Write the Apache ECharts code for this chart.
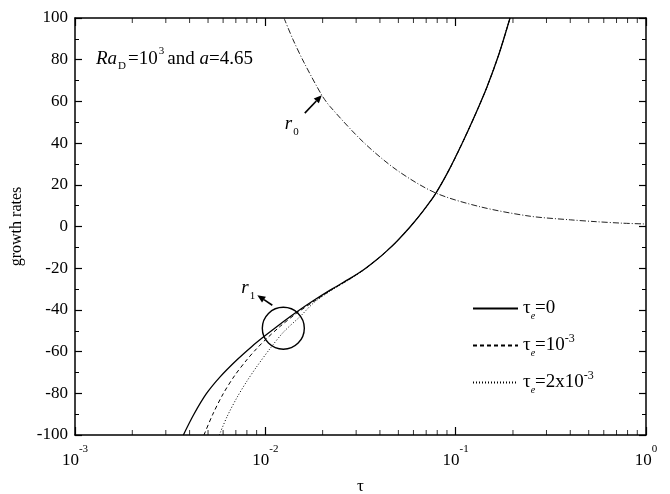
<!DOCTYPE html>
<html>
<head>
<meta charset="utf-8">
<script src="https://cdn.jsdelivr.net/npm/echarts@6/dist/echarts.min.js"></script>
<style>
html, body { margin: 0; padding: 0; background: #fff; }
#chart { width: 670px; height: 494px; }
</style>
</head>
<body>
<div id="chart"></div>
<script>
// r1 branch, tau_e = 0 (solid)
const tauE0 = [0.00371, 0.0042, 0.0049, 0.0058, 0.0071, 0.0085, 0.0098, 0.0118, 0.0146, 0.018, 0.0219, 0.0279, 0.0327, 0.039, 0.0435, 0.049, 0.058, 0.068, 0.078, 0.092, 0.1096, 0.127, 0.1455, 0.168, 0.193];
const rateE0 = [-100, -90.3, -80.2, -72, -63.9, -57.5, -52.9, -47.2, -41, -35.4, -30.5, -24.9, -20.9, -15.5, -11.7, -7.2, 0.1, 7.9, 15.4, 26.9, 41, 53.8, 66.5, 82.1, 100];
// tau_e = 1e-3 (dashed)
const tauE1 = [0.00476, 0.0053, 0.006, 0.0069, 0.008, 0.009, 0.0102, 0.012, 0.0146, 0.018, 0.0219, 0.0279, 0.0327, 0.039, 0.0435, 0.049, 0.058, 0.068, 0.078, 0.092, 0.1096, 0.127, 0.1455, 0.168, 0.193];
const rateE1 = [-100, -90, -80.3, -71.5, -63.9, -58.6, -53.6, -47.8, -41.6, -35.9, -30.8, -25, -20.9, -15.5, -11.7, -7.2, 0.1, 7.9, 15.4, 26.9, 41, 53.8, 66.5, 82.1, 100];
// tau_e = 2e-3 (dotted)
const tauE2 = [0.00573, 0.0063, 0.0071, 0.008, 0.009, 0.0106, 0.0125, 0.0153, 0.018, 0.0219, 0.0279, 0.0327, 0.039, 0.0435, 0.049, 0.058, 0.068, 0.078, 0.092, 0.1096, 0.127, 0.1455, 0.168, 0.193];
const rateE2 = [-100, -91.1, -82, -74.2, -67.3, -58.5, -50.5, -43, -36.5, -31, -25.2, -21, -15.5, -11.7, -7.2, 0.1, 7.9, 15.4, 26.9, 41, 53.8, 66.5, 82.1, 100];
// r0 branch (dash-dot)
const tauR0 = [0.01253, 0.014, 0.016, 0.0198, 0.0219, 0.0327, 0.049, 0.078, 0.134, 0.243, 0.4, 0.55, 0.75, 1.0];
const rateR0 = [100, 89.5, 78.5, 63, 57.5, 40.5, 27.1, 16.2, 9.5, 5.0, 3.2, 2.3, 1.6, 1.2];

// minor ticks of the log axis
const minorTicksX = [0.002, 0.003, 0.004, 0.005, 0.006, 0.007, 0.008, 0.009,
  0.02, 0.03, 0.04, 0.05, 0.06, 0.07, 0.08, 0.09,
  0.2, 0.3, 0.4, 0.5, 0.6, 0.7, 0.8, 0.9];

const seriesNames = ['τe=0', 'τe=10-3', 'τe=2x10-3'];
const legendText = {
  'τe=0': '{t|τ}{s|e}{t|=0}',
  'τe=10-3': '{t|τ}{s|e}{t|=10}{p|-3}',
  'τe=2x10-3': '{t|τ}{s|e}{t|=2x10}{p|-3}'
};

const FONT = 'Liberation Serif';
const chart = echarts.init(document.getElementById('chart'));

function pairs(xs, ys) {
  return xs.map((x, i) => [x, ys[i]]);
}

const axisLineStyle = { color: '#000', width: 1.5 };

const logAxisBase = {
  type: 'log',
  logBase: 10,
  min: 0.001,
  max: 1,
  axisLine: { onZero: false, lineStyle: axisLineStyle },
  axisTick: { inside: true, length: 8, lineStyle: { color: '#000', width: 1.2 } },
  splitLine: { show: false },
  minorTick: { show: false }
};

const valueAxisBase = {
  type: 'value',
  min: -100,
  max: 100,
  interval: 20,
  axisLine: { show: true, onZero: false, lineStyle: axisLineStyle },
  axisTick: { show: true, inside: true, length: 7, lineStyle: { color: '#000', width: 1.2 } },
  minorTick: { show: true, splitNumber: 2, length: 4, lineStyle: { color: '#000', width: 1 } },
  splitLine: { show: false }
};

// short inward tick marks on the bottom / top frame, placed through the log axis
function minorTickSeries(yEdge, offsetY) {
  return {
    type: 'scatter',
    symbol: 'rect',
    symbolSize: [1, 5],
    symbolOffset: [0, offsetY],
    itemStyle: { color: '#000' },
    data: minorTicksX.map(v => [v, yEdge])
  };
}

chart.setOption({
  animation: false,
  backgroundColor: '#fff',
  textStyle: { fontFamily: FONT, color: '#000' },
  grid: { left: 75, right: 24, top: 18, bottom: 59, outerBoundsMode: 'none' },
  xAxis: [
    Object.assign({}, logAxisBase, {
      position: 'bottom',
      name: 'τ',
      nameLocation: 'middle',
      nameGap: 43,
      nameTextStyle: { fontFamily: FONT, fontSize: 17, color: '#000' },
      axisLabel: {
        margin: 9,
        formatter: v => '{b|10}{s|' + Math.round(Math.log10(v)) + '}',
        rich: {
          b: { fontFamily: FONT, fontSize: 17, color: '#000', lineHeight: 25, verticalAlign: 'bottom' },
          s: { fontFamily: FONT, fontSize: 11, color: '#000', verticalAlign: 'top' }
        }
      }
    }),
    Object.assign({}, logAxisBase, { position: 'top', axisLabel: { show: false } })
  ],
  yAxis: [
    Object.assign({}, valueAxisBase, {
      position: 'left',
      name: 'growth rates',
      nameLocation: 'middle',
      nameGap: 50,
      nameTextStyle: { fontFamily: FONT, fontSize: 16, color: '#000' },
      axisLabel: { margin: 7, fontFamily: FONT, fontSize: 17, color: '#000' }
    }),
    Object.assign({}, valueAxisBase, { position: 'right', axisLabel: { show: false } })
  ],
  legend: {
    data: seriesNames,
    orient: 'vertical',
    left: 472,
    top: 299,
    padding: 0,
    itemWidth: 45,
    itemHeight: 12,
    itemGap: 11,
    itemStyle: { opacity: 0 },
    formatter: name => legendText[name],
    textStyle: {
      rich: {
        t: { fontFamily: FONT, fontSize: 19, color: '#000', lineHeight: 26 },
        s: { fontFamily: FONT, fontSize: 10, fontStyle: 'italic', color: '#000', verticalAlign: 'bottom' },
        p: { fontFamily: FONT, fontSize: 12, color: '#000', verticalAlign: 'top' }
      }
    }
  },
  series: [
    {
      name: seriesNames[0], type: 'line', symbol: 'none', smooth: 0.3,
      data: pairs(tauE0, rateE0),
      itemStyle: { color: '#000' },
      lineStyle: { color: '#000', width: 1.3, type: 'solid' }
    },
    {
      name: seriesNames[1], type: 'line', symbol: 'none', smooth: 0.3,
      data: pairs(tauE1, rateE1),
      itemStyle: { color: '#000' },
      lineStyle: { color: '#000', width: 1, type: [4, 3] }
    },
    {
      name: seriesNames[2], type: 'line', symbol: 'none', smooth: 0.3,
      data: pairs(tauE2, rateE2),
      itemStyle: { color: '#000' },
      lineStyle: { color: '#000', width: 1, type: [1, 2] }
    },
    {
      name: 'r0', type: 'line', symbol: 'none', smooth: 0.3,
      data: pairs(tauR0, rateR0),
      lineStyle: { color: '#222', width: 1, type: [6, 2, 1, 2] }
    },
    minorTickSeries(-100, -2.5),
    minorTickSeries(100, 2.5)
  ]
});

// arrow made of a shaft and a filled head, pointing from tail to tip
function arrow(tail, tip) {
  const dx = tip[0] - tail[0], dy = tip[1] - tail[1];
  const len = Math.sqrt(dx * dx + dy * dy);
  const ux = dx / len, uy = dy / len;
  const headLen = 8, headW = 3.5;
  const bx = tip[0] - ux * headLen, by = tip[1] - uy * headLen;
  return [
    { type: 'line', shape: { x1: tail[0], y1: tail[1], x2: bx, y2: by }, style: { stroke: '#000', lineWidth: 1.6 } },
    {
      type: 'polygon',
      shape: { points: [tip, [bx - uy * headW, by + ux * headW], [bx + uy * headW, by - ux * headW]] },
      style: { fill: '#000' }
    }
  ];
}

const tipR0 = chart.convertToPixel({ xAxisIndex: 0, yAxisIndex: 0 }, [0.0198, 63]);
const ring = chart.convertToPixel({ xAxisIndex: 0, yAxisIndex: 0 }, [0.01243, -48.8]);
const tipR1 = [ring[0] - 26, ring[1] - 33];

const annoRich = {
  i: { fontFamily: FONT, fontSize: 19, fontStyle: 'italic', fill: '#000', lineHeight: 26 },
  n: { fontFamily: FONT, fontSize: 19, fill: '#000', lineHeight: 26 },
  sb: { fontFamily: FONT, fontSize: 11, fill: '#000', verticalAlign: 'bottom', padding: [0, 2, 0, 1] },
  sp: { fontFamily: FONT, fontSize: 11, fill: '#000', verticalAlign: 'top', padding: [0, 3, 0, 1] }
};

chart.setOption({
  graphic: [
    {
      type: 'text', left: 96, top: 46,
      style: { text: '{i|Ra}{sb|D}{n|=10}{sp|3}{n|and }{i|a}{n|=4.65}', rich: annoRich }
    },
    {
      type: 'text', x: tipR0[0] - 37, y: tipR0[1] + 16,
      style: { text: '{i|r}{sb|0}', rich: annoRich }
    },
    {
      type: 'text', x: tipR1[0] - 16, y: tipR1[1] - 20,
      style: { text: '{i|r}{sb|1}', rich: annoRich }
    },
    {
      type: 'circle',
      shape: { cx: ring[0], cy: ring[1], r: 21 },
      style: { fill: 'none', stroke: '#000', lineWidth: 1.4 }
    }
  ].concat(
    arrow([tipR0[0] - 17, tipR0[1] + 18], tipR0),
    arrow([tipR1[0] + 15, tipR1[1] + 10], tipR1)
  )
});
</script>
</body>
</html>
